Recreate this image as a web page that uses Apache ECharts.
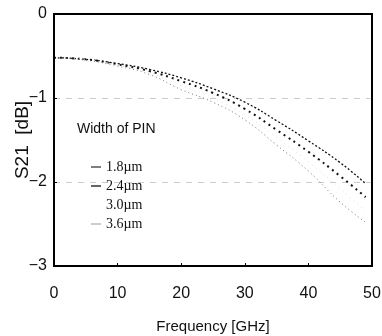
<!DOCTYPE html>
<html>
<head>
<meta charset="utf-8">
<script src="https://cdn.jsdelivr.net/npm/echarts@6/dist/echarts.min.js"></script>
<style>
  html, body { margin: 0; padding: 0; background: #fff; }
  #chart { width: 382px; height: 336px; }
</style>
</head>
<body>
<div id="chart"></div>
<script>
// frequency points (GHz)
const freq = [0, 5, 10, 15, 20, 25, 30, 35, 40, 45, 49];

// S21 in dB for each PIN width
const s21_18 = [-0.52, -0.54, -0.59, -0.66, -0.76, -0.89, -1.05, -1.27, -1.51, -1.77, -2.02];
const s21_24 = [-0.52, -0.54, -0.60, -0.68, -0.80, -0.94, -1.13, -1.38, -1.64, -1.93, -2.18];
const s21_30 = [-0.52, -0.54, -0.61, -0.70, -0.85, -1.00, -1.20, -1.47, -1.76, -2.08, -2.35];
const s21_36 = [-0.52, -0.55, -0.62, -0.72, -0.90, -1.05, -1.26, -1.56, -1.87, -2.24, -2.48];

const legendNames = ['1.8\u00b5m', '2.4\u00b5m', '3.0\u00b5m', '3.6\u00b5m'];

const pairs = (ys) => freq.map((x, i) => [x, ys[i]]);

const chart = echarts.init(document.getElementById('chart'), null, { renderer: 'canvas' });

const styles = [
  { color: '#111', width: 1.3, type: [2, 2] },
  { color: '#111', width: 2, type: [2, 4] },
  { color: '#e2e2e2', width: 1, type: [1, 4] },
  { color: '#777', width: 1, type: [1, 3] },
];
const legendIconColors = ['#555', '#333', '#fff', '#bbb'];
const allData = [s21_18, s21_24, s21_30, s21_36];

const option = {
  backgroundColor: '#fff',
  animation: false,
  grid: { left: 54, top: 14, right: 10, bottom: 70, outerBoundsMode: 'none', containLabel: false },
  title: {
    text: 'Width of PIN',
    left: 72,
    top: 117,
    textStyle: {
      fontFamily: 'Liberation Sans',
      fontWeight: 'normal',
      fontSize: 14,
      color: '#111',
    },
  },
  legend: {
    data: legendNames.map((name, i) => ({
      name,
      icon: 'rect',
      itemStyle: { color: legendIconColors[i] },
    })),
    orient: 'vertical',
    left: 86,
    top: 155,
    itemGap: 5,
    itemWidth: 10,
    itemHeight: 1.5,
    textStyle: {
      fontFamily: 'Liberation Serif',
      fontSize: 14,
      color: '#111',
      lineHeight: 14,
    },
  },
  xAxis: {
    type: 'value',
    min: 0,
    max: 50,
    interval: 10,
    name: 'Frequency [GHz]',
    nameLocation: 'middle',
    nameGap: 53,
    nameMoveOverlap: false,
    nameTextStyle: { fontFamily: 'Liberation Sans', fontSize: 15, color: '#111' },
    axisLine: { show: true, onZero: false, lineStyle: { color: '#000', width: 2 } },
    axisTick: { show: true, inside: true, length: 3, lineStyle: { color: '#000' } },
    axisLabel: { margin: 20, fontFamily: 'Liberation Sans', fontSize: 16, color: '#111' },
    splitLine: { show: false },
  },
  yAxis: {
    type: 'value',
    min: -3,
    max: 0,
    interval: 1,
    name: 'S21  [dB]',
    nameLocation: 'middle',
    nameGap: 22,
    nameMoveOverlap: false,
    nameTextStyle: { fontFamily: 'Liberation Sans', fontSize: 19, color: '#111' },
    axisLine: { show: true, onZero: false, lineStyle: { color: '#000', width: 2 } },
    axisTick: { show: true, inside: true, length: 3, lineStyle: { color: '#000' } },
    axisLabel: {
      margin: 7,
      fontFamily: 'Liberation Sans',
      fontSize: 16,
      color: '#111',
      formatter: (v) => (v < 0 ? '\u2212' + Math.abs(v) : String(v)),
    },
    splitLine: { show: true, lineStyle: { color: '#ccc', type: [6, 6], width: 1 } },
  },
  series: legendNames.map((name, i) => ({
    name,
    type: 'line',
    data: pairs(allData[i]),
    smooth: true,
    showSymbol: false,
    symbol: 'none',
    lineStyle: styles[i],
    itemStyle: { color: styles[i].color },
  })),
};

// frame on top and right, drawn above the split lines
option.graphic = [{
  type: 'rect',
  z: 100,
  shape: { x: 54, y: 14, width: 318, height: 252 },
  style: { fill: 'none', stroke: '#000', lineWidth: 2 },
  silent: true,
}];

chart.setOption(option);
</script>
</body>
</html>
